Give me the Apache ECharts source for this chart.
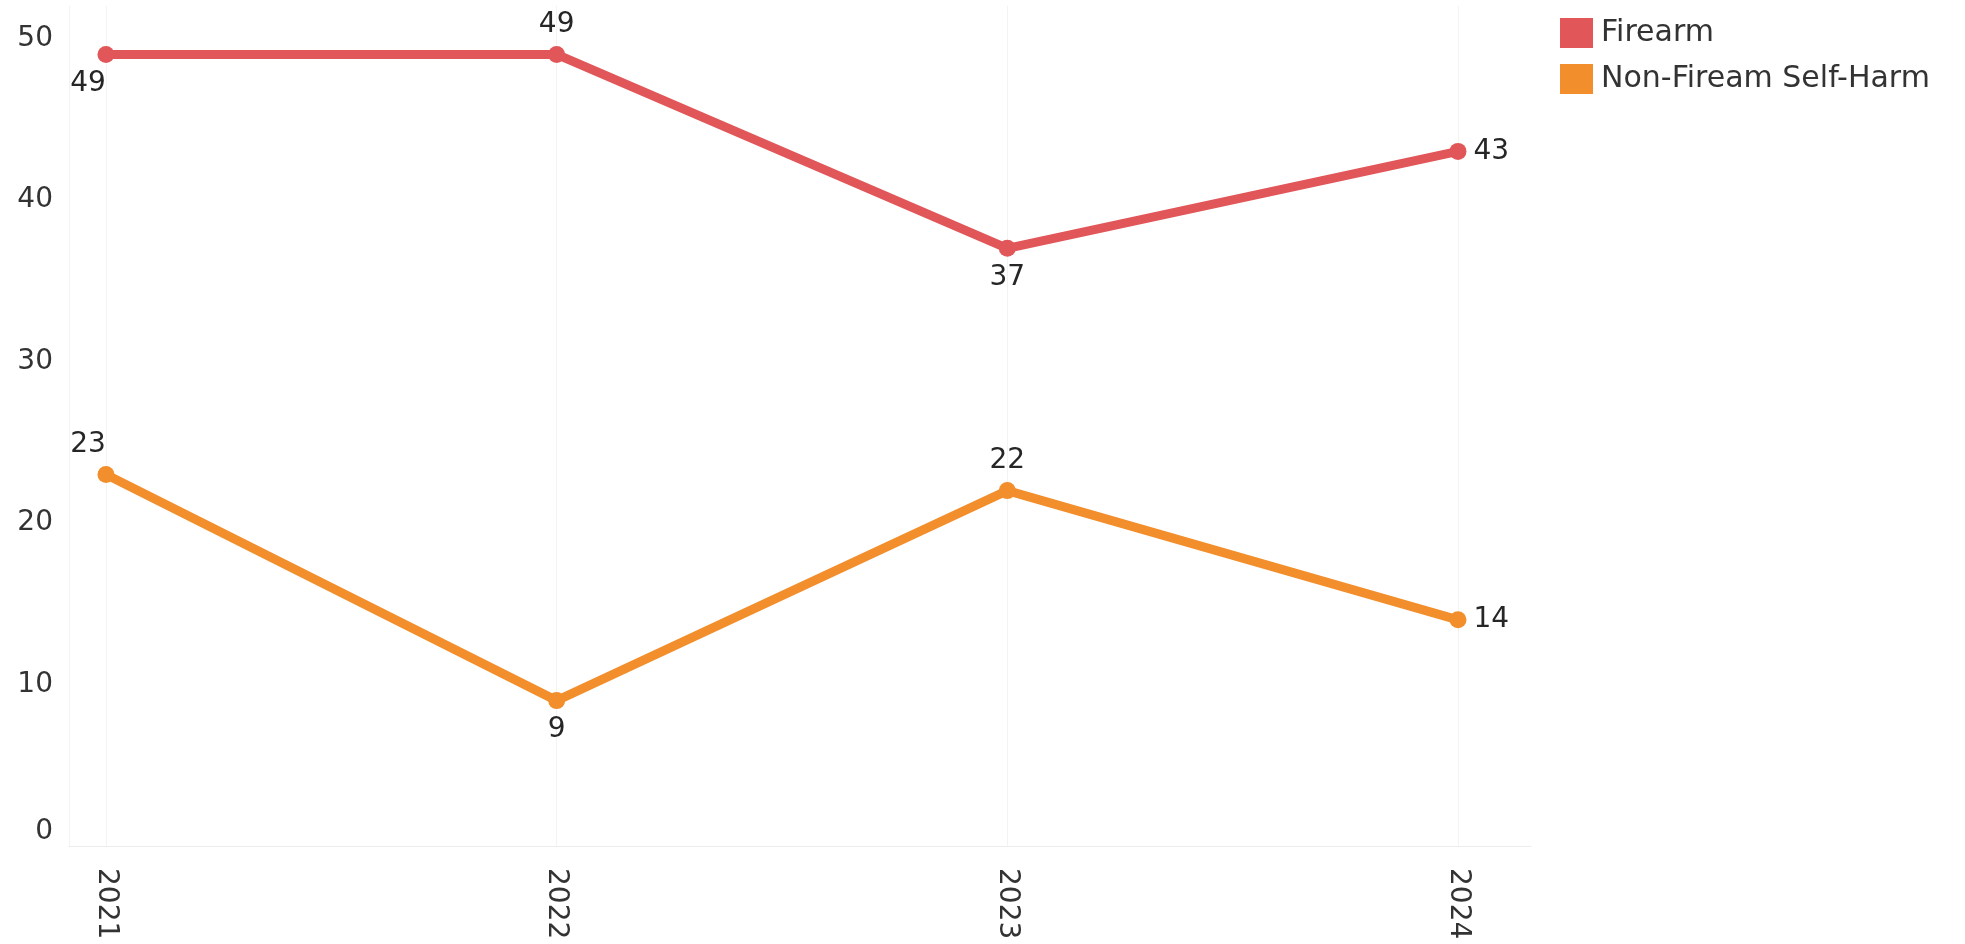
<!DOCTYPE html>
<html>
<head>
<meta charset="utf-8">
<title>Firearm vs Non-Firearm Self-Harm</title>
<script src="https://cdn.jsdelivr.net/npm/echarts@6/dist/echarts.min.js"></script>
<style>
  html, body { margin: 0; padding: 0; background: #fff; }
  #chart { width: 1965px; height: 944px; }
</style>
</head>
<body>
<div id="chart"></div>
<script>
// chart data
let years = [2021, 2022, 2023, 2024];
let firearm = [49, 49, 37, 43];
let nonFirearm = [23, 9, 22, 14];
let seriesNames = ['Firearm', 'Non-Fiream Self-Harm'];

// where each value label sits next to its point
let firearmLabelPos = ['bottom', 'top', 'bottom', 'right'];
let nonFirearmLabelPos = ['top', 'bottom', 'top', 'right'];

let font = '"DejaVu Sans", Verdana, sans-serif';
let textColor = '#333';

function toPoints(values, positions) {
  return values.map((v, i) => ({
    value: [years[i], v],
    label: { position: positions[i], offset: i === 0 ? [-18, 0] : [0, 0] }
  }));
}

function makeSeries(name, values, positions, color) {
  return {
    name: name,
    type: 'line',
    data: toPoints(values, positions),
    symbol: 'circle',
    symbolSize: 17,
    color: color,
    lineStyle: { width: 9, color: color },
    label: {
      show: true,
      distance: 7,
      color: '#262626',
      fontSize: 28,
      fontFamily: font,
      formatter: p => p.value[1]
    }
  };
}

let chart = echarts.init(document.getElementById('chart'));

let option = {
  animation: false,
  backgroundColor: '#fff',
  grid: { left: 69, right: 434, top: 6, bottom: 98 },
  legend: {
    orient: 'vertical',
    left: 1555,
    top: 13,
    icon: 'rect',
    itemWidth: 33,
    itemHeight: 30,
    itemGap: 16,
    data: seriesNames,
    textStyle: { color: textColor, fontSize: 30, fontFamily: font, padding: [0, 0, 0, 3] }
  },
  xAxis: {
    type: 'value',
    min: 2020.918,
    max: 2024.162,
    axisLine: { show: true, lineStyle: { color: '#ececec' } },
    axisTick: { show: false, customValues: years },
    splitLine: { show: true, lineStyle: { color: '#f3f3f3', width: 1 } },
    axisLabel: {
      customValues: years,
      formatter: v => String(v),
      rotate: -90,
      margin: 22,
      color: textColor,
      fontSize: 28,
      fontFamily: font
    }
  },
  yAxis: {
    type: 'value',
    min: 0,
    max: 52,
    interval: 10,
    axisLine: { show: true, lineStyle: { color: '#f3f3f3' } },
    axisTick: { show: false },
    splitLine: { show: false },
    axisLabel: {
      color: textColor,
      fontSize: 28,
      fontFamily: font,
      margin: 16,
      showMaxLabel: false,
      verticalAlignMinLabel: 'bottom'
    }
  },
  series: [
    makeSeries(seriesNames[0], firearm, firearmLabelPos, '#E15759'),
    makeSeries(seriesNames[1], nonFirearm, nonFirearmLabelPos, '#F28E2B')
  ]
};

chart.setOption(option);
</script>
</body>
</html>
